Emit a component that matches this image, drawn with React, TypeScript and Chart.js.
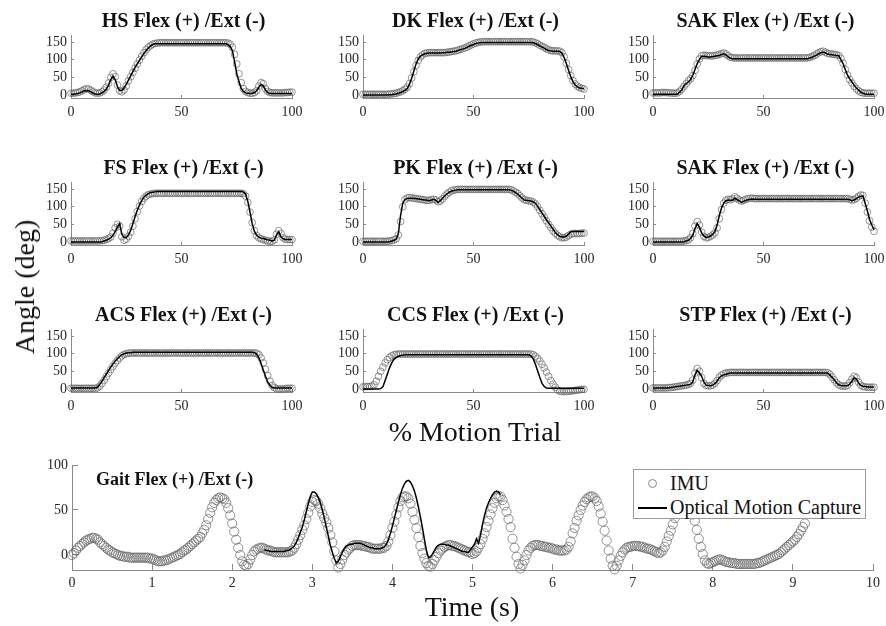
import React, { useEffect, useRef } from "react";
import { Chart, registerables } from "chart.js";

Chart.register(...registerables);

// ---------------- data ----------------
const PCT_TICKS = [0, 50, 100];
const ANGLE_TICKS = [0, 50, 100, 150];
const TIME_TICKS = [0, 1, 2, 3, 4, 5, 6, 7, 8, 9, 10];
const GAIT_ANGLE_TICKS = [0, 50, 100];

const HS_IMU = [
  5, 5, 6, 7, 9, 12, 15, 18, 17, 13,
  9, 6, 5, 6, 9, 14, 22, 34, 50, 60,
  52, 28, 12, 9, 14, 26, 40, 52, 64, 76,
  88, 99, 110, 120, 128, 135, 140, 144, 146, 147,
  148, 148, 148, 148, 148, 148, 148, 148, 148, 148,
  148, 148, 148, 148, 148, 148, 148, 148, 148, 148,
  148, 148, 148, 148, 148, 148, 148, 148, 148, 148,
  148, 147, 144, 135, 115, 88, 60, 35, 18, 10,
  7, 5, 5, 7, 12, 25, 35, 32, 18, 10,
  7, 6, 6, 6, 6, 6, 6, 7, 7, 8, 8,
];
const HS_MOCAP = [
  2, 2, 3, 4, 6, 9, 12, 13, 12, 9,
  5, 3, 2, 3, 6, 10, 17, 28, 44, 53,
  44, 24, 13, 13, 20, 30, 42, 54, 66, 78,
  88, 98, 108, 118, 126, 133, 139, 143, 145, 145,
  145, 145, 145, 145, 145, 145, 145, 145, 145, 145,
  145, 145, 145, 145, 145, 145, 145, 145, 145, 145,
  145, 145, 145, 145, 145, 145, 145, 145, 145, 145,
  145, 143, 138, 126, 95, 61, 38, 19, 10, 6,
  5, 4, 5, 7, 12, 22, 30, 26, 14, 7,
  4, 4, 4, 4, 4, 4, 4, 4, 4, 4, 4,
];
const DK_IMU = [
  2, 2, 2, 2, 2, 2, 2, 2, 2, 2,
  2, 2, 3, 3, 4, 5, 7, 9, 12, 16,
  22, 32, 48, 66, 84, 98, 108, 114, 118, 119,
  120, 120, 120, 120, 120, 120, 120, 120, 121, 122,
  123, 124, 125, 127, 129, 131, 133, 136, 139, 142,
  145, 147, 149, 150, 151, 151, 151, 151, 151, 151,
  151, 151, 151, 151, 151, 151, 151, 151, 151, 151,
  151, 151, 151, 151, 151, 151, 151, 150, 148, 145,
  141, 138, 135, 131, 128, 126, 125, 125, 125, 124,
  120, 108, 90, 72, 55, 41, 31, 25, 21, 19, 17,
];
const DK_MOCAP = [
  0, 0, 0, 0, 0, 0, 0, 0, 0, 0,
  0, 0, 1, 1, 2, 3, 5, 7, 10, 13,
  18, 30, 47, 68, 88, 102, 110, 114, 117, 118,
  119, 119, 119, 119, 119, 119, 120, 120, 121, 121,
  122, 123, 124, 126, 128, 130, 132, 135, 138, 141,
  143, 146, 147, 148, 149, 149, 149, 149, 149, 149,
  149, 149, 149, 149, 149, 149, 149, 149, 149, 149,
  149, 149, 149, 149, 149, 149, 149, 148, 146, 143,
  139, 136, 133, 129, 126, 125, 124, 124, 124, 123,
  119, 106, 89, 70, 52, 38, 28, 23, 20, 19, 18,
];
const SAK1_IMU = [
  6, 6, 6, 6, 7, 7, 7, 6, 6, 5,
  5, 6, 10, 16, 24, 32, 40, 46, 55, 70,
  88, 102, 111, 113, 112, 111, 111, 111, 112, 113,
  115, 117, 119, 116, 111, 107, 106, 105, 105, 105,
  105, 105, 105, 105, 105, 105, 105, 105, 105, 105,
  105, 105, 105, 105, 105, 105, 105, 105, 105, 105,
  105, 105, 105, 105, 105, 105, 105, 105, 105, 105,
  105, 107, 109, 112, 116, 120, 123, 124, 121, 118,
  117, 116, 115, 114, 112, 104, 90, 72, 57, 44,
  34, 25, 18, 12, 8, 6, 5, 5, 5, 5, 5,
];
const SAK1_MOCAP = [
  2, 2, 2, 2, 2, 2, 2, 2, 2, 2,
  2, 2, 8, 14, 26, 32, 37, 44, 56, 72,
  89, 100, 110, 110, 109, 108, 108, 109, 110, 111,
  112, 115, 117, 114, 108, 104, 103, 103, 103, 103,
  103, 103, 103, 103, 103, 103, 103, 103, 103, 103,
  103, 103, 103, 103, 103, 103, 103, 103, 103, 103,
  103, 103, 103, 103, 103, 103, 103, 103, 103, 103,
  103, 105, 107, 110, 113, 117, 120, 122, 119, 116,
  115, 114, 113, 112, 112, 100, 89, 72, 56, 46,
  37, 28, 20, 14, 8, 5, 3, 2, 2, 2, 2,
];
const FS_IMU = [
  3, 3, 3, 3, 3, 3, 3, 3, 3, 3,
  3, 3, 3, 3, 4, 5, 7, 10, 14, 25,
  40, 50, 45, 15, 5, 8, 16, 28, 45, 66,
  86, 102, 115, 124, 130, 134, 136, 137, 138, 138,
  138, 138, 138, 138, 138, 138, 138, 138, 138, 138,
  138, 138, 138, 138, 138, 138, 138, 138, 138, 138,
  138, 138, 138, 138, 138, 138, 138, 138, 138, 138,
  138, 138, 138, 138, 138, 138, 138, 138, 137, 130,
  112, 85, 55, 32, 18, 12, 9, 7, 5, 3,
  2, 2, 6, 22, 32, 24, 12, 8, 7, 7, 7,
];
const FS_MOCAP = [
  0, 0, 0, 0, 0, 0, 0, 0, 0, 0,
  0, 0, 0, 0, 1, 3, 5, 8, 12, 19,
  30, 42, 52, 22, 13, 12, 20, 33, 52, 72,
  90, 105, 117, 127, 133, 137, 140, 141, 142, 143,
  143, 143, 143, 143, 143, 143, 143, 143, 143, 143,
  143, 143, 143, 143, 143, 143, 143, 143, 143, 143,
  143, 143, 143, 143, 143, 143, 143, 143, 143, 143,
  143, 143, 143, 143, 143, 143, 143, 143, 142, 136,
  115, 85, 52, 30, 19, 14, 11, 10, 8, 6,
  5, 3, 5, 20, 29, 15, 9, 7, 7, 7, 7,
];
const PK_IMU = [
  2, 2, 2, 2, 2, 2, 2, 2, 2, 2,
  2, 2, 3, 4, 6, 9, 20, 58, 100, 120,
  125, 126, 125, 124, 123, 122, 121, 120, 119, 118,
  118, 120, 121, 119, 114, 116, 122, 130, 136, 141,
  145, 147, 148, 149, 149, 149, 149, 149, 149, 149,
  149, 149, 149, 149, 149, 149, 149, 149, 149, 149,
  149, 149, 149, 149, 149, 149, 149, 148, 145, 141,
  137, 131, 125, 120, 118, 117, 116, 113, 108, 100,
  90, 80, 70, 60, 50, 41, 32, 25, 19, 15,
  12, 12, 14, 18, 22, 24, 24, 24, 24, 25, 25,
];
const PK_MOCAP = [
  0, 0, 0, 0, 0, 0, 0, 0, 0, 0,
  0, 0, 1, 3, 5, 8, 24, 75, 110, 121,
  123, 124, 124, 123, 123, 122, 121, 120, 119, 118,
  117, 119, 121, 118, 112, 117, 124, 131, 136, 141,
  144, 146, 147, 148, 148, 148, 148, 148, 148, 148,
  148, 148, 148, 148, 148, 148, 148, 148, 148, 148,
  148, 148, 148, 148, 148, 148, 148, 147, 144, 140,
  136, 130, 124, 119, 118, 117, 116, 114, 110, 101,
  92, 82, 73, 63, 54, 45, 36, 27, 21, 16,
  14, 14, 17, 22, 29, 30, 30, 30, 30, 30, 30,
];
const SAK2_IMU = [
  2, 2, 2, 2, 2, 2, 2, 2, 2, 2,
  2, 2, 2, 2, 3, 4, 6, 12, 24, 45,
  58, 48, 28, 16, 12, 13, 16, 20, 26, 40,
  66, 92, 110, 118, 121, 120, 122, 128, 124, 119,
  116, 118, 121, 123, 124, 124, 123, 123, 123, 123,
  123, 123, 123, 123, 123, 123, 123, 123, 123, 123,
  123, 123, 123, 123, 123, 123, 123, 123, 123, 123,
  123, 123, 123, 123, 123, 123, 123, 123, 123, 123,
  123, 123, 123, 123, 123, 123, 123, 123, 123, 121,
  119, 120, 124, 129, 133, 132, 110, 85, 60, 42, 30,
];
const SAK2_MOCAP = [
  0, 0, 0, 0, 0, 0, 0, 0, 0, 0,
  0, 0, 0, 0, 1, 3, 5, 10, 19, 38,
  52, 42, 26, 17, 13, 14, 17, 22, 29, 48,
  75, 96, 110, 117, 119, 118, 118, 124, 120, 117,
  112, 115, 118, 120, 121, 122, 121, 121, 121, 121,
  121, 121, 121, 121, 121, 121, 121, 121, 121, 121,
  121, 121, 121, 121, 121, 121, 121, 121, 121, 121,
  121, 121, 121, 121, 121, 121, 121, 121, 121, 121,
  121, 121, 121, 121, 121, 121, 121, 121, 121, 120,
  117, 119, 123, 127, 130, 131, 110, 88, 64, 48, 35,
];
const ACS_IMU = [
  2, 2, 2, 2, 2, 2, 2, 2, 2, 2,
  2, 2, 3, 8, 16, 25, 35, 45, 55, 64,
  73, 81, 88, 94, 98, 100, 101, 102, 102, 102,
  102, 102, 102, 102, 102, 102, 102, 102, 102, 102,
  102, 102, 102, 102, 102, 102, 102, 102, 102, 102,
  102, 102, 102, 102, 102, 102, 102, 102, 102, 102,
  102, 102, 102, 102, 102, 102, 102, 102, 102, 102,
  102, 102, 102, 102, 102, 102, 102, 102, 102, 102,
  102, 102, 102, 102, 101, 97, 88, 74, 56, 38,
  22, 10, 4, 1, 0, 0, 0, 1, 2, 2, 2,
];
const ACS_MOCAP = [
  3, 3, 3, 3, 3, 3, 3, 3, 3, 3,
  3, 3, 5, 13, 22, 32, 42, 52, 62, 71,
  79, 86, 92, 97, 100, 102, 103, 103, 104, 104,
  104, 104, 104, 104, 104, 104, 104, 104, 104, 104,
  104, 104, 104, 104, 104, 104, 104, 104, 104, 104,
  104, 104, 104, 104, 104, 104, 104, 104, 104, 104,
  104, 104, 104, 104, 104, 104, 104, 104, 104, 104,
  104, 104, 104, 104, 104, 104, 104, 104, 104, 104,
  104, 104, 104, 103, 99, 88, 72, 54, 36, 20,
  10, 5, 3, 3, 3, 3, 3, 3, 3, 3, 3,
];
const CCS_IMU = [
  6, 7, 7, 7, 8, 12, 22, 36, 50, 62,
  74, 83, 89, 94, 97, 98, 99, 99, 99, 99,
  99, 99, 99, 99, 99, 99, 99, 99, 99, 99,
  99, 99, 99, 99, 99, 99, 99, 99, 99, 99,
  99, 99, 99, 99, 99, 99, 99, 99, 99, 99,
  99, 99, 99, 99, 99, 99, 99, 99, 99, 99,
  99, 99, 99, 99, 99, 99, 99, 99, 99, 99,
  99, 99, 99, 99, 99, 99, 99, 97, 93, 87,
  79, 70, 60, 48, 36, 24, 14, 5, -3, -6,
  -7, -7, -7, -6, -6, -5, -4, -3, -2, -1, -1,
];
const CCS_MOCAP = [
  0, 0, 0, 0, 0, 0, 0, 0, 1, 6,
  24, 42, 60, 74, 84, 89, 93, 95, 96, 97,
  97, 97, 97, 97, 97, 97, 97, 97, 97, 97,
  97, 97, 97, 97, 97, 97, 97, 97, 97, 97,
  97, 97, 97, 97, 97, 97, 97, 97, 97, 97,
  97, 97, 97, 97, 97, 97, 97, 97, 97, 97,
  97, 97, 97, 97, 97, 97, 97, 97, 97, 97,
  97, 97, 97, 97, 97, 97, 94, 86, 70, 52,
  33, 16, 7, 3, 2, 2, 2, 2, 2, 2,
  2, 2, 2, 2, 2, 2, 2, 2, 2, 2, 2,
];
const STP_IMU = [
  3, 3, 3, 3, 3, 3, 3, 4, 4, 5,
  6, 7, 8, 9, 10, 11, 13, 16, 25, 45,
  58, 50, 32, 16, 10, 9, 9, 11, 16, 24,
  33, 39, 43, 45, 46, 47, 47, 47, 47, 47,
  47, 47, 47, 47, 47, 47, 47, 47, 47, 47,
  47, 47, 47, 47, 47, 47, 47, 47, 47, 47,
  47, 47, 47, 47, 47, 47, 47, 47, 47, 47,
  47, 47, 47, 47, 47, 47, 47, 47, 47, 46,
  42, 34, 26, 18, 12, 9, 8, 8, 10, 18,
  28, 36, 32, 20, 11, 7, 6, 5, 5, 5, 5,
];
const STP_MOCAP = [
  3, 3, 3, 3, 3, 3, 3, 3, 4, 5,
  6, 7, 8, 9, 10, 11, 12, 13, 20, 40,
  53, 46, 36, 20, 11, 10, 9, 11, 15, 22,
  32, 37, 40, 42, 44, 45, 45, 45, 45, 45,
  45, 45, 45, 45, 45, 45, 45, 45, 45, 45,
  45, 45, 45, 45, 45, 45, 45, 45, 45, 45,
  45, 45, 45, 45, 45, 45, 45, 45, 45, 45,
  45, 45, 45, 45, 45, 45, 45, 45, 45, 45,
  40, 33, 26, 18, 12, 10, 9, 9, 9, 14,
  22, 32, 29, 17, 10, 8, 7, 6, 6, 6, 6,
];

// Gait trial: IMU sampled every 0.025 s from 0 s, optical capture from 2.4 s
const GAIT_DT = 0.025;
const GAIT_MOCAP_START = 2.4;
const GAIT_IMU = [
  0, 2, 5, 8, 10, 12, 14, 16, 17, 18,
  19, 19, 18, 17, 14, 12, 10, 8, 6, 5,
  3, 2, 1, 0, -1, -1, -2, -2, -2, -3,
  -3, -3, -3, -3, -3, -3, -3, -3, -3, -4,
  -4, -5, -6, -7, -7, -7, -6, -6, -5, -4,
  -3, -2, -1, 0, 1, 3, 5, 6, 8, 10,
  12, 14, 16, 18, 20, 24, 28, 33, 40, 47,
  53, 58, 61, 63, 64, 63, 62, 58, 52, 44,
  35, 26, 17, 8, 0, -7, -11, -12, -10, -5,
  0, 4, 6, 7, 8, 8, 7, 6, 5, 5,
  4, 3, 3, 3, 3, 3, 3, 3, 3, 4,
  5, 8, 12, 17, 22, 28, 33, 40, 47, 54,
  59, 61, 60, 57, 52, 46, 41, 36, 30, 22,
  14, 4, -6, -14, -10, -5, 0, 3, 6, 8,
  10, 11, 11, 11, 11, 10, 10, 9, 9, 8,
  7, 7, 7, 7, 7, 8, 8, 10, 15, 22,
  30, 37, 45, 53, 60, 64, 65, 65, 63, 57,
  48, 39, 30, 20, 10, 2, -4, -9, -12, -13,
  -10, -6, -2, 2, 5, 7, 9, 10, 11, 11,
  10, 10, 9, 8, 7, 6, 5, 4, 3, 3,
  1, 2, 4, 8, 12, 18, 24, 31, 38, 45,
  52, 58, 63, 65, 65, 61, 55, 48, 40, 31,
  18, 8, -2, -10, -15, -11, -6, 0, 5, 8,
  10, 11, 11, 11, 10, 10, 9, 9, 8, 8,
  7, 6, 6, 5, 5, 5, 5, 6, 9, 15,
  24, 30, 38, 44, 50, 55, 59, 62, 64, 65,
  65, 63, 60, 54, 46, 37, 27, 16, 5, -4,
  -12, -16, -12, -6, -1, 3, 6, 8, 9, 9,
  10, 10, 10, 10, 9, 9, 8, 7, 7, 6,
  5, 4, 3, 2, 3, 5, 9, 15, 21, 27,
  34, 41, 48, 54, 59, 63, 65, 65, 62, 54,
  45, 38, 28, 18, 9, 1, -6, -9, -10, -9,
  -8, -7, -6, -5, -5, -6, -7, -8, -8, -9,
  -9, -9, -10, -10, -10, -10, -10, -10, -10, -10,
  -10, -10, -9, -9, -8, -7, -6, -5, -4, -3,
  -2, -1, 0, 1, 3, 5, 7, 9, 11, 13,
  15, 17, 20, 23, 27, 31, 35,
];
const GAIT_MOCAP = [
  6, 5, 5, 4, 4, 4, 4, 4, 4, 4,
  4, 5, 5, 6, 8, 10, 14, 19, 25, 31,
  39, 48, 57, 65, 70, 70, 68, 64, 58, 50,
  41, 31, 21, 11, 3, -4, -9, -7, -2, 3,
  7, 10, 11, 12, 12, 13, 13, 13, 13, 12,
  11, 10, 9, 8, 8, 7, 7, 7, 7, 8,
  9, 12, 17, 24, 32, 41, 50, 59, 67, 74,
  79, 82, 83, 81, 77, 71, 63, 53, 42, 30,
  17, 5, -3, -2, 1, 5, 9, 11, 12, 12,
  12, 11, 11, 10, 9, 8, 7, 6, 5, 4,
  4, 3, 3, 6, 9, 12, 18, 13, 22, 34,
  44, 52, 58, 63, 67, 70, 71, 70, 67,
];

const PANEL_TITLES = [
  "HS Flex (+) /Ext (-)", "DK Flex (+) /Ext (-)", "SAK Flex (+) /Ext (-)",
  "FS Flex (+) /Ext (-)", "PK Flex (+) /Ext (-)", "SAK Flex (+) /Ext (-)",
  "ACS Flex (+) /Ext (-)", "CCS Flex (+) /Ext (-)", "STP Flex (+) /Ext (-)",
];
const PANEL_IMU = [HS_IMU, DK_IMU, SAK1_IMU, FS_IMU, PK_IMU, SAK2_IMU, ACS_IMU, CCS_IMU, STP_IMU];
const PANEL_MOCAP = [HS_MOCAP, DK_MOCAP, SAK1_MOCAP, FS_MOCAP, PK_MOCAP, SAK2_MOCAP, ACS_MOCAP, CCS_MOCAP, STP_MOCAP];

const GAIT_TITLE = "Gait Flex (+) /Ext (-)";
const LABEL_IMU = "IMU";
const LABEL_MOCAP = "Optical Motion Capture";
const Y_LABEL = "Angle (deg)";
const X_LABEL_TOP = "% Motion Trial";
const X_LABEL_BOTTOM = "Time (s)";

// ---------------- layout / style ----------------
const SERIF = "'Liberation Serif', 'Times New Roman', 'DejaVu Serif', serif";
const AXIS_COLOR = "#8a8a8a";
const TICK_TEXT = "#262626";
const IMU_COLOR = "rgba(100,100,100,0.8)";
const GAIT_IMU_COLOR = "rgba(105,105,105,0.85)";
const TEXT_COLOR = "#111";

const COL_LEFT = [71, 363, 653];
const ROW_TOP = [35, 182, 329];
const PANEL_W = 221;
const PANEL_H = 63;
const PAD_T = 24;
const PAD_R = 30;
const Y_AXIS_W = 40;

const GAIT_L = 72;
const GAIT_T = 465;
const GAIT_W = 801;
const GAIT_H = 105;

function axisOptions(min: number, max: number, ticks: number[], tickLen: number, pad: number, size: number, isX: boolean) {
  return {
    type: "linear",
    min,
    max,
    afterBuildTicks: (a: any) => {
      a.ticks = ticks.map((v) => ({ value: v }));
    },
    afterFit: (s: any) => {
      if (isX) s.height = size;
      else s.width = size;
    },
    grid: {
      display: true,
      drawOnChartArea: false,
      drawTicks: true,
      tickLength: tickLen,
      color: AXIS_COLOR,
      tickColor: AXIS_COLOR,
      lineWidth: 1,
      tickWidth: 1,
    },
    border: { display: true, color: AXIS_COLOR, width: 1 },
    ticks: {
      padding: pad,
      font: { family: SERIF, size: 14 },
      color: TICK_TEXT,
      maxRotation: 0,
      minRotation: 0,
      autoSkip: false,
    },
  };
}

function buildConfig(
  imu: { x: number; y: number }[],
  mocap: { x: number; y: number }[],
  xAxis: any,
  yAxis: any,
  radius: number,
  imuColor: string
) {
  return {
    type: "line",
    data: {
      datasets: [
        {
          label: LABEL_MOCAP,
          data: mocap,
          borderColor: "#000",
          borderWidth: 1.5,
          pointRadius: 0,
          fill: false,
          order: 1,
          clip: false,
        },
        {
          label: LABEL_IMU,
          data: imu,
          showLine: false,
          borderColor: imuColor,
          backgroundColor: "rgba(0,0,0,0)",
          pointRadius: radius,
          pointBorderWidth: 0.85,
          pointBorderColor: imuColor,
          pointBackgroundColor: "rgba(0,0,0,0)",
          order: 2,
          clip: false,
        },
      ],
    },
    options: {
      responsive: false,
      animation: false,
      events: [],
      layout: { padding: { left: 0, top: PAD_T, right: PAD_R, bottom: 0 } },
      plugins: { legend: { display: false }, tooltip: { enabled: false }, title: { display: false } },
      scales: { x: xAxis, y: yAxis },
    },
  };
}

function ChartCanvas({ left, top, width, height, make }: any) {
  const ref = useRef<HTMLCanvasElement | null>(null);
  useEffect(() => {
    if (!ref.current) return;
    const chart = new Chart(ref.current, make());
    return () => chart.destroy();
  }, []);
  return (
    <canvas
      ref={ref}
      width={width}
      height={height}
      style={{ position: "absolute", left, top, width, height }}
    />
  );
}

function Panel({ index }: { index: number }) {
  const L = COL_LEFT[index % 3];
  const T = ROW_TOP[Math.floor(index / 3)];
  const X_H = 26;
  const width = Y_AXIS_W + PANEL_W + PAD_R;
  const height = PAD_T + PANEL_H + X_H;
  const make = () =>
    buildConfig(
      PANEL_IMU[index].map((v, i) => ({ x: i, y: v })),
      PANEL_MOCAP[index].map((v, i) => ({ x: i, y: v })),
      axisOptions(0, 100, PCT_TICKS, -3, 9, X_H, true),
      axisOptions(-8.5, 170, ANGLE_TICKS, -3, 7, Y_AXIS_W, false),
      3.4,
      IMU_COLOR
    );
  return (
    <>
      <ChartCanvas left={L - Y_AXIS_W} top={T - PAD_T} width={width} height={height} make={make} />
      <div
        style={{
          position: "absolute",
          left: L + PANEL_W / 2 + 2,
          top: T - 15,
          transform: "translate(-50%, -50%)",
          font: `bold 20px ${SERIF}`,
          lineHeight: 1,
          whiteSpace: "nowrap",
          color: TEXT_COLOR,
        }}
      >
        {PANEL_TITLES[index]}
      </div>
    </>
  );
}

function GaitPanel() {
  const X_H = 30;
  const width = Y_AXIS_W + GAIT_W + PAD_R;
  const height = PAD_T + GAIT_H + X_H;
  const make = () =>
    buildConfig(
      GAIT_IMU.map((v, i) => ({ x: i * GAIT_DT, y: v })),
      GAIT_MOCAP.map((v, i) => ({ x: GAIT_MOCAP_START + i * GAIT_DT, y: v })),
      axisOptions(0, 10, TIME_TICKS, -6, 11, X_H, true),
      axisOptions(-16.7, 100, GAIT_ANGLE_TICKS, -6, 10, Y_AXIS_W, false),
      4.6,
      GAIT_IMU_COLOR
    );
  return (
    <>
      <ChartCanvas left={GAIT_L - Y_AXIS_W} top={GAIT_T - PAD_T} width={width} height={height} make={make} />
      <div
        style={{
          position: "absolute",
          left: 96,
          top: 479,
          transform: "translateY(-50%)",
          font: `bold 18px ${SERIF}`,
          lineHeight: 1,
          whiteSpace: "nowrap",
          color: TEXT_COLOR,
        }}
      >
        {GAIT_TITLE}
      </div>
      <div
        style={{
          position: "absolute",
          left: 633,
          top: 469,
          width: 233,
          height: 50,
          boxSizing: "border-box",
          border: "1px solid #9a9a9a",
          background: "#fff",
          font: `20px ${SERIF}`,
          color: TEXT_COLOR,
        }}
      >
        <div
          style={{
            position: "absolute",
            left: 14,
            top: 9,
            width: 9,
            height: 9,
            boxSizing: "border-box",
            border: "1px solid #8a8a8a",
            borderRadius: "50%",
          }}
        />
        <div style={{ position: "absolute", left: 36, top: 13, transform: "translateY(-50%)", lineHeight: 1, whiteSpace: "nowrap" }}>
          {LABEL_IMU}
        </div>
        <div style={{ position: "absolute", left: 4, top: 37, width: 29, height: 1.6, background: "#000" }} />
        <div style={{ position: "absolute", left: 36, top: 37, transform: "translateY(-50%)", lineHeight: 1, whiteSpace: "nowrap" }}>
          {LABEL_MOCAP}
        </div>
      </div>
    </>
  );
}

export default function App() {
  return (
    <div
      style={{
        position: "absolute",
        left: 0,
        top: 0,
        width: 886,
        height: 626,
        overflow: "hidden",
        background: "#fff",
      }}
    >
      {PANEL_TITLES.map((_, i) => (
        <Panel key={i} index={i} />
      ))}
      <GaitPanel />
      <div
        style={{
          position: "absolute",
          left: 25,
          top: 287,
          transform: "translate(-50%, -50%) rotate(-90deg)",
          font: `28px ${SERIF}`,
          lineHeight: 1,
          whiteSpace: "nowrap",
          color: TEXT_COLOR,
        }}
      >
        {Y_LABEL}
      </div>
      <div
        style={{
          position: "absolute",
          left: 475,
          top: 432,
          transform: "translate(-50%, -50%)",
          font: `28px ${SERIF}`,
          lineHeight: 1,
          whiteSpace: "nowrap",
          color: TEXT_COLOR,
        }}
      >
        {X_LABEL_TOP}
      </div>
      <div
        style={{
          position: "absolute",
          left: 472,
          top: 607,
          transform: "translate(-50%, -50%)",
          font: `28px ${SERIF}`,
          lineHeight: 1,
          whiteSpace: "nowrap",
          color: TEXT_COLOR,
        }}
      >
        {X_LABEL_BOTTOM}
      </div>
    </div>
  );
}
